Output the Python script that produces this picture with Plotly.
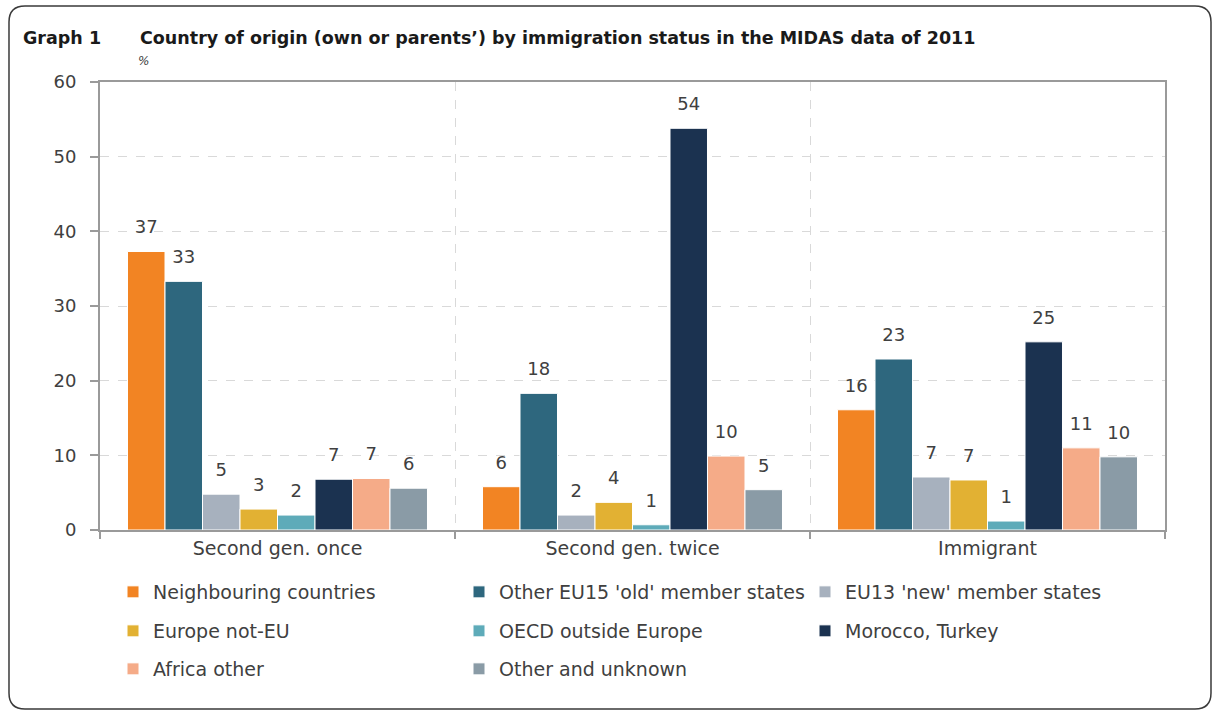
import plotly.graph_objects as go

# Immigration status groups (x categories)
categories = ["Second gen. once", "Second gen. twice", "Immigrant"]

# Country-of-origin shares, % per group
neighbouring = [37.3, 5.8, 16.1]
eu15_old = [33.3, 18.3, 22.9]
eu13_new = [4.8, 2.0, 7.1]
europe_not_eu = [2.8, 3.7, 6.7]
oecd_outside = [2.0, 0.7, 1.2]
morocco_turkey = [6.8, 53.8, 25.2]
africa_other = [6.9, 9.9, 11.0]
other_unknown = [5.6, 5.4, 9.8]

series_names = [
    "Neighbouring countries",
    "Other EU15 'old' member states",
    "EU13 'new' member states",
    "Europe not-EU",
    "OECD outside Europe",
    "Morocco, Turkey",
    "Africa other",
    "Other and unknown",
]
series_values = [neighbouring, eu15_old, eu13_new, europe_not_eu,
                 oecd_outside, morocco_turkey, africa_other, other_unknown]
series_colors = ["#F28423", "#2E677E", "#A7B1BE", "#E2B133",
                 "#5EABB9", "#1B3250", "#F5AB88", "#8A9BA6"]
legend_rows = ["legend", "legend", "legend", "legend2",
               "legend2", "legend2", "legend3", "legend3"]

y_ticks = [0, 10, 20, 30, 40, 50, 60]

W, H = 1215, 713
ML, MR, MT, MB = 100, 50, 82, 183
PW, PH = W - ML - MR, H - MT - MB


def px_x(px):
    return (px - ML) / PW


def px_y(py):
    return (H - MB - py) / PH


FONT = "DejaVu Sans"
TXT = "#404040"
AXIS = "#9A9A9A"
BARGAP = 0.155

fig = go.Figure()

for name, vals, col, lg in zip(series_names, series_values, series_colors, legend_rows):
    fig.add_trace(go.Bar(
        x=categories, y=vals, name=name, legend=lg,
        marker=dict(color=col, line=dict(color="white", width=1)),
        hoverinfo="skip",
    ))

# value labels, grouped the same way as the bars
for name, vals in zip(series_names, series_values):
    fig.add_trace(go.Scatter(
        x=categories, y=vals, mode="markers+text", showlegend=False,
        marker=dict(size=20, opacity=0),
        texttemplate="%{y:.0f}", textposition="top center",
        textfont=dict(family=FONT, size=18, color=TXT),
        hoverinfo="skip", cliponaxis=False,
    ))

legend_common = dict(
    orientation="h", xanchor="left", yanchor="middle",
    entrywidth=301, entrywidthmode="pixels",
    font=dict(family=FONT, size=19, color=TXT),
    bgcolor="rgba(0,0,0,0)", itemclick=False, itemdoubleclick=False,
)

# rounded outer frame
L, R, T, B, r = 9, 1211, 6, 709, 16
pts = [
    ("M", (L + r, T)), ("L", (R - r, T)), ("Q", (R, T), (R, T + r)),
    ("L", (R, B - r)), ("Q", (R, B), (R - r, B)), ("L", (L + r, B)),
    ("Q", (L, B), (L, B - r)), ("L", (L, T + r)), ("Q", (L, T), (L + r, T)),
]
path = ""
for item in pts:
    cmd = item[0]
    coords = " ".join(f"{px_x(x):.5f},{px_y(y):.5f}" for x, y in item[1:])
    path += f"{cmd} {coords} "
path += "Z"

fig.update_layout(
    width=W, height=H,
    margin=dict(l=ML, r=MR, t=MT, b=MB),
    paper_bgcolor="white", plot_bgcolor="white",
    barmode="group", bargap=BARGAP, bargroupgap=0,
    scattermode="group", scattergap=BARGAP,
    font=dict(family=FONT, color=TXT),
    showlegend=True,
    legend=dict(legend_common, x=px_x(113), y=px_y(592)),
    legend2=dict(legend_common, x=px_x(113), y=px_y(631)),
    legend3=dict(legend_common, x=px_x(113), y=px_y(669)),
    shapes=[dict(type="path", xref="paper", yref="paper", path=path,
                 line=dict(color="#3a3a3a", width=1.5), layer="below")],
    annotations=[
        dict(text="<b>Graph 1</b>", xref="paper", yref="paper",
             x=px_x(21), y=px_y(38), xanchor="left", yanchor="middle",
             showarrow=False, font=dict(family=FONT, size=17.5, color="#1a1a1a")),
        dict(text="<b>Country of origin (own or parents’) by immigration status in the MIDAS data of 2011</b>",
             xref="paper", yref="paper", x=px_x(138), y=px_y(38),
             xanchor="left", yanchor="middle", showarrow=False,
             font=dict(family=FONT, size=17.5, color="#1a1a1a")),
        dict(text="<i>%</i>", xref="paper", yref="paper",
             x=px_x(136), y=px_y(61), xanchor="left", yanchor="middle",
             showarrow=False, font=dict(family=FONT, size=12, color=TXT)),
    ],
)

fig.update_xaxes(
    showline=True, linecolor=AXIS, linewidth=2, mirror=True,
    ticks="outside", tickson="boundaries", ticklen=7, tickcolor=AXIS, tickwidth=2,
    showgrid=True, gridcolor="#D9D9D9", griddash="dash", gridwidth=1,
    tickfont=dict(family=FONT, size=19, color=TXT),
)
fig.update_yaxes(
    range=[0, 60], tickvals=y_ticks, ticktext=[str(v) for v in y_ticks],
    showline=True, linecolor=AXIS, linewidth=2, mirror=True,
    ticks="outside", ticklen=8, tickcolor=AXIS, tickwidth=2,
    ticklabelstandoff=10,
    showgrid=True, gridcolor="#D9D9D9", griddash="dash", gridwidth=1,
    zeroline=False,
    tickfont=dict(family=FONT, size=18, color=TXT),
)

fig.write_html("out.html")
